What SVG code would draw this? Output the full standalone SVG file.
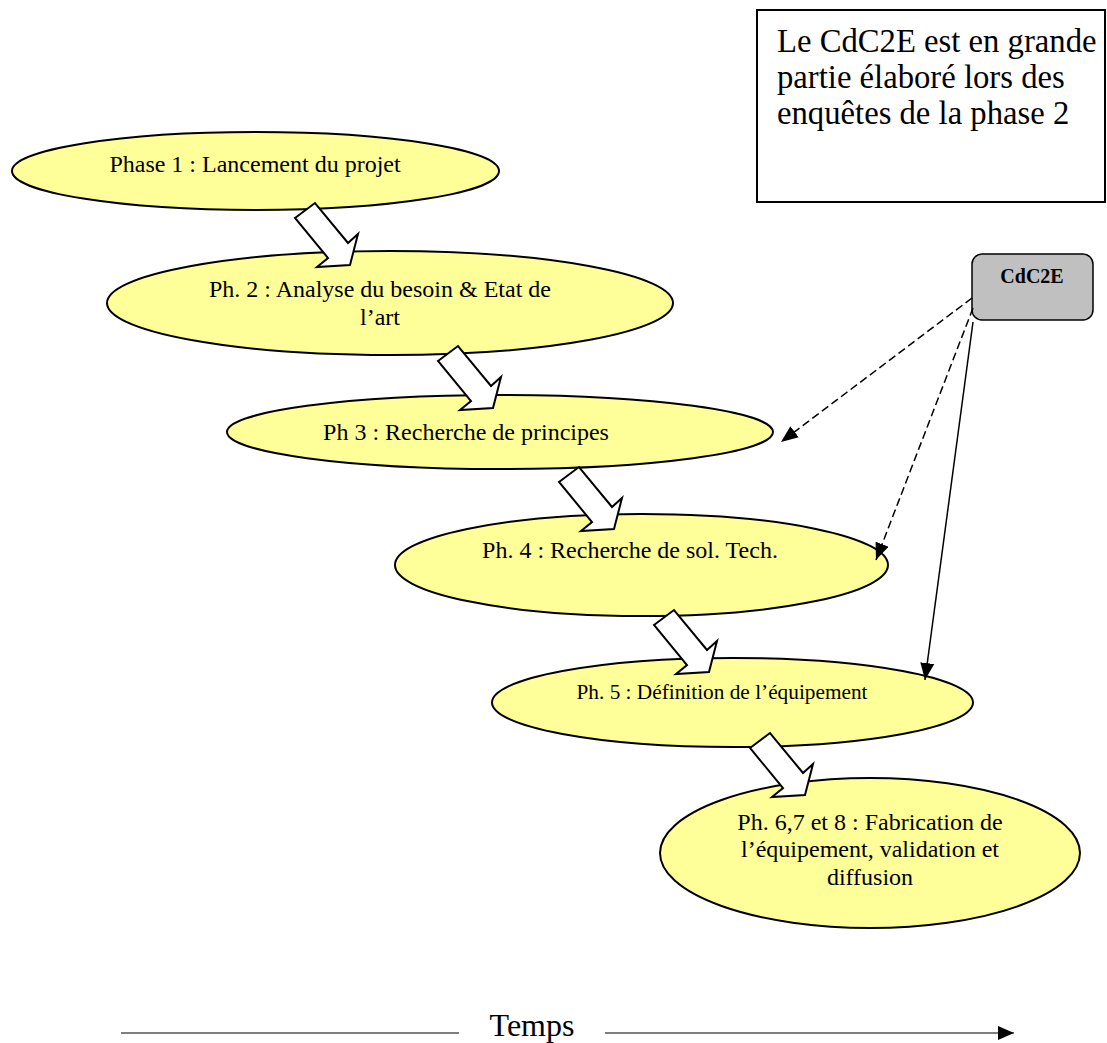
<svg xmlns="http://www.w3.org/2000/svg" xmlns:xlink="http://www.w3.org/1999/xlink" width="1107" height="1043" viewBox="0 0 1107 1043">
<style>
  .ph { fill: #ffff99; stroke: #000; stroke-width: 2; }
  .t { font-family: "Liberation Serif", "Times New Roman", serif; fill: #000; }
  .t24 { font-size: 24px; text-anchor: middle; }
  .blk { fill: #fff; stroke: #000; stroke-width: 2; stroke-linejoin: miter; }
  .dash { fill: none; stroke: #000; stroke-width: 1.5; stroke-dasharray: 8 4; }
  .solid { fill: none; stroke: #000; stroke-width: 1.5; }
</style>
<defs>
  <path id="blkArrow" d="M0,15 L20,0 L53,40 L63,31 L55,62 L22,64 L33,55 Z"/>
  <marker id="ah" markerUnits="userSpaceOnUse" markerWidth="18" markerHeight="14" refX="17" refY="7" orient="auto">
    <path d="M0,0 L17,7 L0,14 Z" fill="#000"/>
  </marker>
  <marker id="ahT" markerUnits="userSpaceOnUse" markerWidth="17" markerHeight="14" refX="16" refY="7" orient="auto">
    <path d="M0,0 L16,7 L0,14 Z" fill="#000"/>
  </marker>
</defs>
<rect width="1107" height="1043" fill="#fff"/>

<g id="note">
  <rect x="757" y="10" width="348" height="192" fill="#fff" stroke="#000" stroke-width="2"/>
  <text class="t" font-size="32.7" x="777" y="52">Le CdC2E est en grande</text>
  <text class="t" font-size="32.7" x="777" y="88">partie élaboré lors des</text>
  <text class="t" font-size="32.7" x="777" y="124">enquêtes de la phase 2</text>
</g>

<g id="phase1">
  <ellipse class="ph" cx="255.5" cy="171" rx="243.5" ry="39"/>
  <text class="t t24" x="255" y="172">Phase 1 : Lancement du projet</text>
</g>
<g id="phase2">
  <ellipse class="ph" cx="390" cy="303" rx="283" ry="52"/>
  <text class="t t24" x="380" y="297">Ph. 2 : Analyse du besoin &amp; Etat de</text>
  <text class="t t24" x="380" y="325">l’art</text>
</g>
<g id="phase3">
  <ellipse class="ph" cx="500" cy="432" rx="273" ry="37"/>
  <text class="t t24" x="466" y="440">Ph 3 : Recherche de principes</text>
</g>
<g id="phase4">
  <ellipse class="ph" cx="641.5" cy="565" rx="246.5" ry="51"/>
  <text class="t t24" x="630" y="558">Ph. 4 : Recherche de sol. Tech.</text>
</g>
<g id="phase5">
  <ellipse class="ph" cx="732.5" cy="702.5" rx="240.5" ry="44.5"/>
  <text class="t" font-size="21.3" text-anchor="middle" x="722" y="699">Ph. 5 : Définition de l’équipement</text>
</g>
<g id="phase6">
  <ellipse class="ph" cx="870" cy="853" rx="210" ry="75"/>
  <text class="t t24" x="870" y="830">Ph. 6,7 et 8 : Fabrication de</text>
  <text class="t t24" x="870" y="857">l’équipement, validation et</text>
  <text class="t t24" x="870" y="885">diffusion</text>
</g>

<g id="cdc2e">
  <rect x="972" y="254" width="121" height="66" rx="10" ry="10" fill="#c0c0c0" stroke="#000" stroke-width="1.5"/>
  <text class="t" font-size="20" font-weight="bold" text-anchor="middle" x="1032" y="283">CdC2E</text>
</g>

<g id="connectors">
  <use xlink:href="#blkArrow" class="blk" transform="translate(295,203)"/>
  <use xlink:href="#blkArrow" class="blk" transform="translate(438,346)"/>
  <use xlink:href="#blkArrow" class="blk" transform="translate(559,467)"/>
  <use xlink:href="#blkArrow" class="blk" transform="translate(654,610)"/>
  <use xlink:href="#blkArrow" class="blk" transform="translate(750,733)"/>
  <line class="dash" x1="972" y1="298" x2="781" y2="442" marker-end="url(#ah)"/>
  <line class="dash" x1="973" y1="308" x2="876" y2="560" marker-end="url(#ah)"/>
  <line class="solid" x1="973" y1="322" x2="925" y2="680" marker-end="url(#ah)"/>
</g>

<g id="timeAxis">
  <line x1="121" y1="1033" x2="459" y2="1033" stroke="#7f7f7f" stroke-width="2"/>
  <line x1="605" y1="1033" x2="1014" y2="1033" stroke="#7f7f7f" stroke-width="2" marker-end="url(#ahT)"/>
  <text class="t" font-size="32" text-anchor="middle" x="532" y="1036">Temps</text>
</g>
</svg>
